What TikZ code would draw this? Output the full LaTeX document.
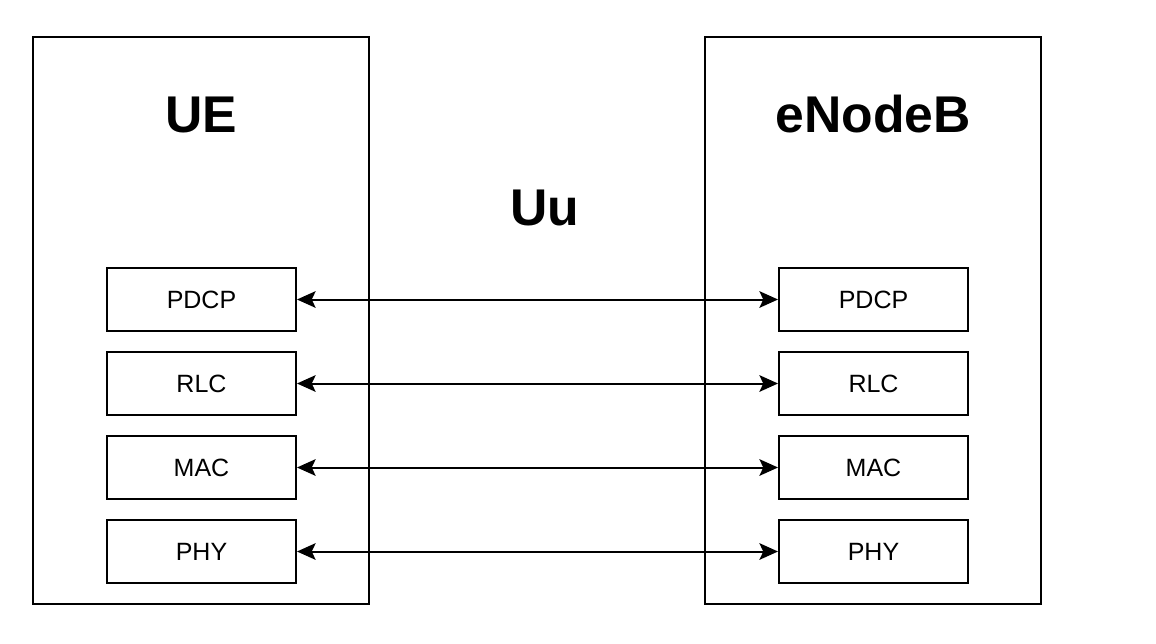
\documentclass[tikz,border=0pt]{standalone}
\usepackage{fontspec}
\setmainfont{Liberation Sans}
\usetikzlibrary{arrows.meta}
\begin{document}
\begin{tikzpicture}[x=0.75pt,y=-0.75pt,
  frame/.style={draw=black,line width=1.5pt,fill=white},
  layer/.style={draw=black,line width=1.5pt,fill=white,minimum width=189*0.75pt,minimum height=63*0.75pt,inner sep=0pt,font=\fontsize{18.75pt}{22pt}\selectfont},
  title/.style={anchor=base,inner sep=0pt,font=\fontsize{38.75pt}{45pt}\selectfont\bfseries},
  link/.style={line width=1.5pt,{Stealth[length=14pt,width=12.5pt,inset=3pt]}-{Stealth[length=14pt,width=12.5pt,inset=3pt]}}]
\useasboundingbox (0,0) rectangle (1156,643);
\draw[frame] (33,37) rectangle (369,604);
\draw[frame] (705,37) rectangle (1041,604);
\node[title] (ue) at (201.5,132) {UE};
\node[title] (enb) at (873,132) {eNodeB};
\node[title] (uu) at (545,225) {Uu};
\node[layer] (l1) at (201.5,299.5) {PDCP};
\node[layer] (l2) at (201.5,383.5) {RLC};
\node[layer] (l3) at (201.5,467.5) {MAC};
\node[layer] (l4) at (201.5,551.5) {PHY};
\node[layer] (r1) at (873.5,299.5) {PDCP};
\node[layer] (r2) at (873.5,383.5) {RLC};
\node[layer] (r3) at (873.5,467.5) {MAC};
\node[layer] (r4) at (873.5,551.5) {PHY};
\foreach \i in {1,2,3,4} {\draw[link] (l\i.east) -- (r\i.west);}
\end{tikzpicture}
\end{document}
